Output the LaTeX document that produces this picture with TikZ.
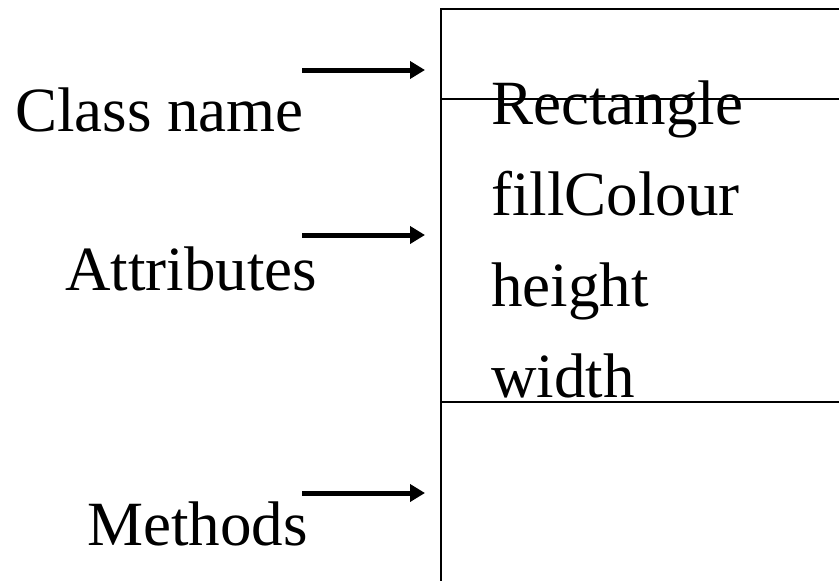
\documentclass[tikz,border=0pt]{standalone}
\usepackage{fontspec}
\setmainfont{Liberation Serif}
\usetikzlibrary{arrows.meta}

\begin{document}
\begin{tikzpicture}[x=1pt, y=-1pt,
  every node/.style={inner sep=0pt, anchor=base west, font=\fontsize{63}{75}\selectfont},
  pointer/.style={line width=5pt, -{Triangle[length=15pt,width=17pt]}},
  frame/.style={line width=1.8pt}]

\useasboundingbox (0,0) rectangle (839,581);

% Klassenkasten
\draw[frame] (839,9) -- (441,9) -- (441,581);
\draw[frame] (441,99) -- (839,99);
\draw[frame] (441,402) -- (839,402);

% Inhalt
\node (cname) at (491,124) {Rectangle};
\node (fill) at (491,215) {fillColour};
\node (height) at (491,306) {height};
\node (width) at (491,397) {width};

% Beschriftungen links
\node (lclass) at (15,131) {Class name};
\node (lattr) at (65,290) {Attributes};
\node (lmeth) at (87,545) {Methods};

% Pfeile
\coordinate (c1) at (302,70);
\coordinate (c2) at (425,70);
\coordinate (a1) at (302,235);
\coordinate (a2) at (425,235);
\coordinate (m1) at (302,493);
\coordinate (m2) at (425,493);
\draw[pointer] (c1) -- (c2);
\draw[pointer] (a1) -- (a2);
\draw[pointer] (m1) -- (m2);

\end{tikzpicture}
\end{document}
